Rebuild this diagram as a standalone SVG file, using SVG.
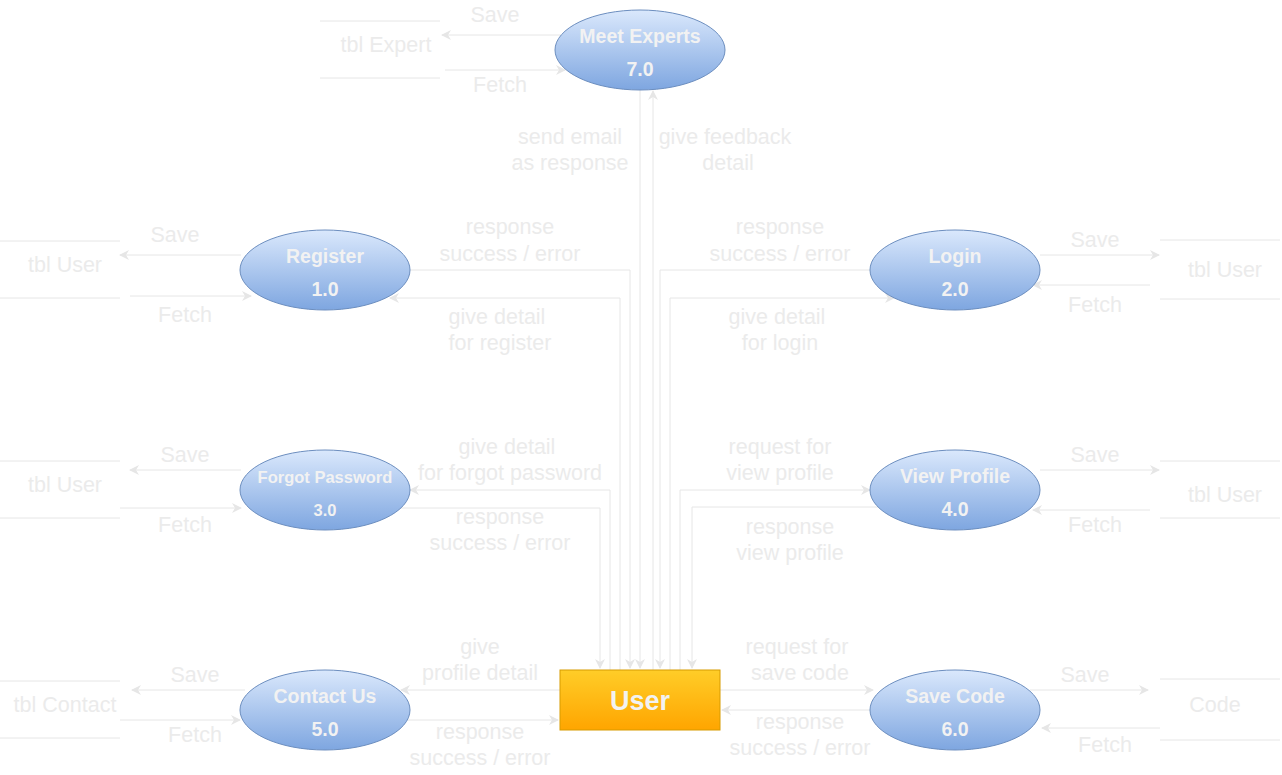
<svg xmlns="http://www.w3.org/2000/svg" width="1282" height="775" viewBox="0 0 1282 775">
<defs>
<linearGradient id="gBlue" x1="0" y1="0" x2="0" y2="1"><stop offset="0" stop-color="#dae8fc"/><stop offset="1" stop-color="#7ea6e0"/></linearGradient>
<linearGradient id="gOrange" x1="0" y1="0" x2="0" y2="1"><stop offset="0" stop-color="#ffcd28"/><stop offset="1" stop-color="#ffa500"/></linearGradient>
<marker id="arr" viewBox="0 0 10 10" refX="9" refY="5" markerWidth="10" markerHeight="10" markerUnits="userSpaceOnUse" orient="auto">
<path d="M0,0 L10,5 L0,10 L3,5 Z" fill="#e6e6e6"/>
</marker>
</defs>
<style>
.bg{fill:#ffffff}
.ln{fill:none;stroke:#e6e6e6;stroke-width:1}
.ar{fill:none;stroke:#e6e6e6;stroke-width:1;marker-end:url(#arr)}
.lbl{font-family:"Liberation Sans",Arial,sans-serif;font-size:21.5px;fill:#ebebeb;text-anchor:middle}
.proc{fill:url(#gBlue);stroke:#6c8ebf;stroke-width:1}
.pt{font-family:"Liberation Sans",Arial,sans-serif;font-size:19.5px;font-weight:bold;fill:#f2f2f2;text-anchor:middle}
.pts{font-family:"Liberation Sans",Arial,sans-serif;font-size:16.5px;font-weight:bold;fill:#f2f2f2;text-anchor:middle}
.ent{fill:url(#gOrange);stroke:#d79b00;stroke-width:1}
.et{font-family:"Liberation Sans",Arial,sans-serif;font-size:27px;font-weight:bold;fill:#f2f2f2;text-anchor:middle}
</style>
<rect class="bg" x="0" y="0" width="1282" height="775"/>

<g id="connectors">
<!-- Meet Experts -->
<path class="ar" d="M640,90 V668"/>
<path class="ar" d="M653,670 V91"/>
<path class="ar" d="M561,35 H442"/>
<path class="ar" d="M445,70 H565"/>
<!-- Register -->
<path class="ar" d="M410,270 H630 V668"/>
<path class="ar" d="M620,670 V298 H390"/>
<path class="ar" d="M241,255 H120"/>
<path class="ar" d="M130,296 H251"/>
<!-- Login -->
<path class="ar" d="M870,270 H660 V668"/>
<path class="ar" d="M670,670 V298 H894"/>
<path class="ar" d="M1040,255 H1159"/>
<path class="ar" d="M1150,285 H1033"/>
<!-- Forgot Password -->
<path class="ar" d="M610,670 V490 H410"/>
<path class="ar" d="M401,508 H600 V668"/>
<path class="ar" d="M241,470 H130"/>
<path class="ar" d="M120,508 H241"/>
<!-- View Profile -->
<path class="ar" d="M680,670 V490 H870"/>
<path class="ar" d="M878,507 H692 V668"/>
<path class="ar" d="M1040,470 H1159"/>
<path class="ar" d="M1150,510 H1033"/>
<!-- Contact Us -->
<path class="ar" d="M560,690 H401"/>
<path class="ar" d="M407,720 H558"/>
<path class="ar" d="M245,690 H132"/>
<path class="ar" d="M120,720 H240"/>
<!-- Save Code -->
<path class="ar" d="M720,690 H873"/>
<path class="ar" d="M872,710 H722"/>
<path class="ar" d="M1030,690 H1148"/>
<path class="ar" d="M1160,728 H1042"/>
</g>

<g id="connector-labels">
<text class="lbl" x="495" y="22">Save</text>
<text class="lbl" x="500" y="92">Fetch</text>
<text class="lbl" x="570" y="144">send email</text>
<text class="lbl" x="570" y="170">as response</text>
<text class="lbl" x="725" y="144">give feedback</text>
<text class="lbl" x="728" y="170">detail</text>

<text class="lbl" x="510" y="234">response</text>
<text class="lbl" x="510" y="261">success / error</text>
<text class="lbl" x="780" y="234">response</text>
<text class="lbl" x="780" y="261">success / error</text>
<text class="lbl" x="497" y="324">give detail</text>
<text class="lbl" x="500" y="350">for register</text>
<text class="lbl" x="777" y="324">give detail</text>
<text class="lbl" x="780" y="350">for login</text>
<text class="lbl" x="175" y="242">Save</text>
<text class="lbl" x="185" y="322">Fetch</text>
<text class="lbl" x="1095" y="247">Save</text>
<text class="lbl" x="1095" y="312">Fetch</text>

<text class="lbl" x="507" y="454">give detail</text>
<text class="lbl" x="510" y="480">for forgot password</text>
<text class="lbl" x="500" y="524">response</text>
<text class="lbl" x="500" y="550">success / error</text>
<text class="lbl" x="780" y="454">request for</text>
<text class="lbl" x="780" y="480">view profile</text>
<text class="lbl" x="790" y="534">response</text>
<text class="lbl" x="790" y="560">view profile</text>
<text class="lbl" x="185" y="462">Save</text>
<text class="lbl" x="185" y="532">Fetch</text>
<text class="lbl" x="1095" y="462">Save</text>
<text class="lbl" x="1095" y="532">Fetch</text>

<text class="lbl" x="480" y="654">give</text>
<text class="lbl" x="480" y="680">profile detail</text>
<text class="lbl" x="480" y="739">response</text>
<text class="lbl" x="480" y="765">success / error</text>
<text class="lbl" x="797" y="654">request for</text>
<text class="lbl" x="800" y="680">save code</text>
<text class="lbl" x="800" y="729">response</text>
<text class="lbl" x="800" y="755">success / error</text>
<text class="lbl" x="195" y="682">Save</text>
<text class="lbl" x="195" y="742">Fetch</text>
<text class="lbl" x="1085" y="682">Save</text>
<text class="lbl" x="1105" y="752">Fetch</text>
</g>

<g id="store-expert">
<path class="ln" d="M320,21 H440 M320,78 H440"/>
<text class="lbl" x="386" y="52">tbl Expert</text>
</g>
<g id="store-user-register">
<path class="ln" d="M0,241 H120 M0,298 H120"/>
<text class="lbl" x="65" y="272">tbl User</text>
</g>
<g id="store-user-login">
<path class="ln" d="M1160,240 H1280 M1160,299 H1280"/>
<text class="lbl" x="1225" y="277">tbl User</text>
</g>
<g id="store-user-forgot">
<path class="ln" d="M0,461 H120 M0,518 H120"/>
<text class="lbl" x="65" y="492">tbl User</text>
</g>
<g id="store-user-view">
<path class="ln" d="M1160,461 H1280 M1160,518 H1280"/>
<text class="lbl" x="1225" y="502">tbl User</text>
</g>
<g id="store-contact">
<path class="ln" d="M0,681 H120 M0,738 H120"/>
<text class="lbl" x="65" y="712">tbl Contact</text>
</g>
<g id="store-code">
<path class="ln" d="M1160,679 H1280 M1160,740 H1280"/>
<text class="lbl" x="1215" y="712">Code</text>
</g>

<g id="meet-experts">
<ellipse class="proc" cx="640" cy="50" rx="85" ry="40"/>
<text class="pt" x="640" y="43">Meet Experts</text>
<text class="pt" x="640" y="76">7.0</text>
</g>
<g id="register">
<ellipse class="proc" cx="325" cy="270" rx="85" ry="40"/>
<text class="pt" x="325" y="263">Register</text>
<text class="pt" x="325" y="296">1.0</text>
</g>
<g id="login">
<ellipse class="proc" cx="955" cy="270" rx="85" ry="40"/>
<text class="pt" x="955" y="263">Login</text>
<text class="pt" x="955" y="296">2.0</text>
</g>
<g id="forgot-password">
<ellipse class="proc" cx="325" cy="490" rx="85" ry="40"/>
<text class="pts" x="325" y="483">Forgot Password</text>
<text class="pts" x="325" y="516">3.0</text>
</g>
<g id="view-profile">
<ellipse class="proc" cx="955" cy="490" rx="85" ry="40"/>
<text class="pt" x="955" y="483">View Profile</text>
<text class="pt" x="955" y="516">4.0</text>
</g>
<g id="contact-us">
<ellipse class="proc" cx="325" cy="710" rx="85" ry="40"/>
<text class="pt" x="325" y="703">Contact Us</text>
<text class="pt" x="325" y="736">5.0</text>
</g>
<g id="save-code">
<ellipse class="proc" cx="955" cy="710" rx="85" ry="40"/>
<text class="pt" x="955" y="703">Save Code</text>
<text class="pt" x="955" y="736">6.0</text>
</g>
<g id="user">
<rect class="ent" x="560" y="670" width="160" height="60"/>
<text class="et" x="640" y="710">User</text>
</g>
</svg>
